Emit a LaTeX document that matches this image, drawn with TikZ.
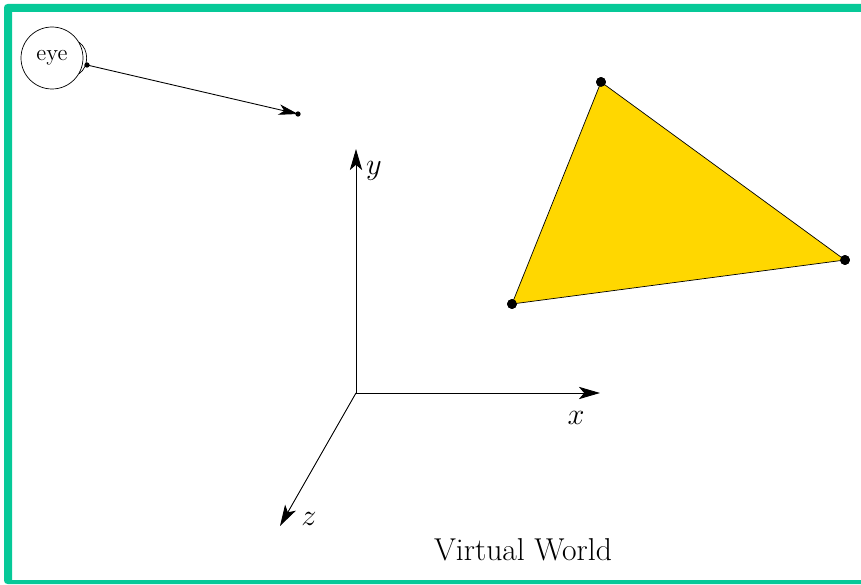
\documentclass[tikz,border=0pt]{standalone}
\usepackage{amsmath}
\usepackage{xcolor}
\usetikzlibrary{arrows.meta, calc}
\definecolor{framegreen}{RGB}{6,201,152}
\definecolor{trianglegold}{RGB}{255,215,0}
\tikzset{
    axisline/.style={-{Stealth[length=12pt, width=7pt, inset=3pt]}, line width=0.5pt},
    vertexdot/.style={circle, fill=black, inner sep=0pt, minimum size=5.6pt},
    smalldot/.style={circle, fill=black, inner sep=0pt, minimum size=3pt}
}
\begin{document}
\begin{tikzpicture}
    \useasboundingbox (0,0) rectangle (17.22,11.68);

    % Frame
    \fill[framegreen] (17.22,11.6) [rounded corners=2pt] -- (0.08,11.6) -- (0.08,0) [sharp corners] -- (17.22,0)
        -- (17.22,0.08) -- (0.24,0.08) -- (0.24,11.44) -- (17.22,11.44) -- cycle;

    % Triangle
    \node[vertexdot] (topvertex) at (12.02,10.04) {};
    \node[vertexdot] (rightvertex) at (16.9,6.48) {};
    \node[vertexdot] (leftvertex) at (10.24,5.6) {};
    \draw[fill=trianglegold, line width=0.4pt] (topvertex.center) -- (rightvertex.center) -- (leftvertex.center) -- cycle;
    \node[vertexdot] at (topvertex) {};
    \node[vertexdot] at (rightvertex) {};
    \node[vertexdot] at (leftvertex) {};

    % Axes
    \coordinate (origin) at (7.12,3.82);
    \coordinate (xend) at (12.0,3.82);
    \coordinate (yend) at (7.12,8.7);
    \coordinate (zend) at (5.6,1.16);
    \draw[axisline] (origin) -- (xend);
    \draw[axisline] (origin) -- (yend);
    \draw[axisline] (origin) -- (zend);
    \node (xlabel) at (11.52,3.32) {\LARGE $x$};
    \node (ylabel) at (7.48,8.26) {\LARGE $y$};
    \node (zlabel) at (6.18,1.3) {\LARGE $z$};

    % Eye
    \node[draw, circle, minimum size=1.24cm, inner sep=0pt, line width=0.4pt] (eye) at (1.04,10.52) {\fontsize{13}{15}\selectfont eye};
    \node[smalldot] (pupil) at (1.74,10.38) {};
    \node[smalldot] (target) at (5.96,9.4) {};
    \draw[line width=0.4pt] (eye.30) to[bend left=55] (eye.-30);
    \draw[-{Stealth[length=11pt, width=6pt, inset=3pt]}, line width=0.5pt] (pupil.center) -- (target.center);

    % Caption
    \node (caption) at (10.46,0.68) {\fontsize{18}{22}\selectfont Virtual World};
\end{tikzpicture}
\end{document}
